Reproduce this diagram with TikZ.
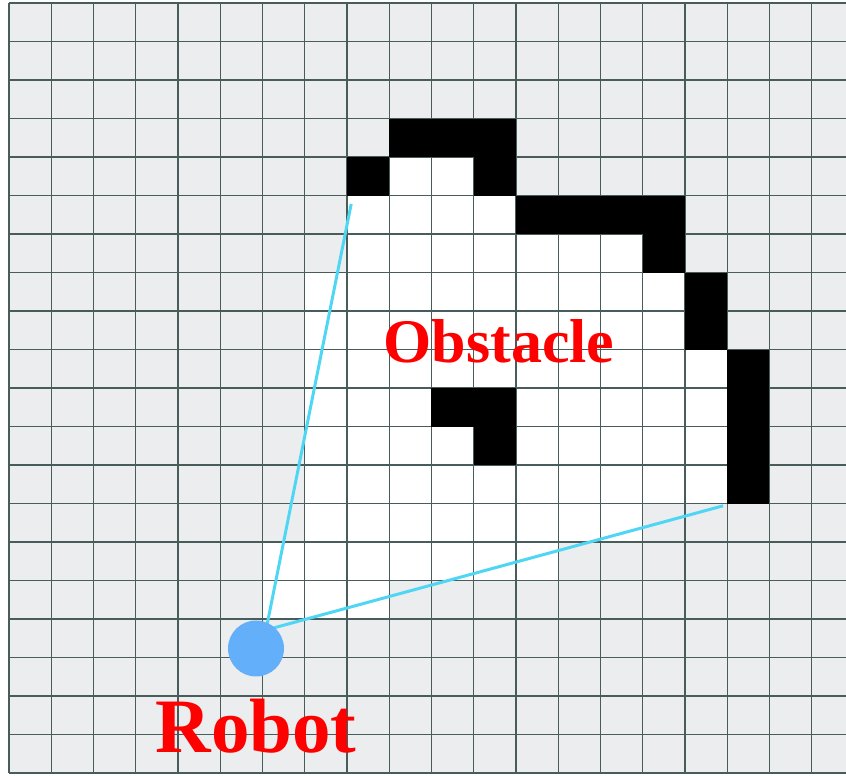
\documentclass[tikz,border=0pt]{standalone}
\usepackage{fontspec}
\setmainfont{Liberation Serif}
\usetikzlibrary{positioning}
\definecolor{cBg}{RGB}{235,237,239}
\definecolor{cGrid}{RGB}{72,92,92}
\definecolor{cRay}{RGB}{80,214,245}
\definecolor{cBot}{RGB}{100,175,250}
\definecolor{cTxt}{RGB}{255,0,0}

\begin{document}
\begin{tikzpicture}[
  x=42.25pt, y=-38.5pt,
  gridln/.style={draw=cGrid, line width=1.4pt},
  free/.style={fill=white},
  occ/.style={fill=black},
  ray/.style={draw=cRay, line width=3pt},
  bot/.style={circle, fill=cBot, minimum size=56pt, inner sep=0pt},
  lbl/.style={text=cTxt, font=\bfseries, inner sep=0pt, anchor=base}
]
\useasboundingbox (-0.213,-0.078) rectangle (19.811,20.078);
\fill[white] (-0.213,-0.078) rectangle (19.811,20.078);

% ---------------- MAP ----------------
\fill[cBg] (0,0) rectangle (19.811,20);
% cells seen by the sensor (row/first/last)
\foreach \r/\a/\b in {4/9/10,5/8/11,6/8/14,7/7/15,8/7/15,9/7/16,10/7/16,11/7/16,12/7/16,13/7/14,14/6/12,15/6/8}
  \fill[free] (\a,\r) rectangle (\b+1,\r+1);
\foreach \i in {0,...,19}
  \draw[gridln] (\i,0) -- (\i,20);
\foreach \j in {0,...,20}
  \draw[gridln] (0,\j) -- (19.811,\j);
% occupied cells (col/row)
\foreach \c/\r in {9/3,10/3,11/3,8/4,11/4,12/5,13/5,14/5,15/5,15/6,16/7,16/8,17/9,17/10,17/11,17/12,10/10,11/10,11/11}
  \fill[occ] (\c,\r) rectangle ++(1,1);

% ---------------- SENSOR ----------------
\coordinate (eye) at (6.083,16.286);
\coordinate (rayL) at (8.10,5.22);
\coordinate (rayR) at (16.90,13.06);
\draw[ray] (eye) -- (rayL);
\draw[ray] (eye) -- (rayR);
\node[bot] (robot) at (5.846,16.766) {};

% ---------------- LABELS ----------------
\node[lbl, font=\bfseries\fontsize{62}{62}\selectfont] (obstacle) at (11.6,9.325) {Obstacle};
\node[lbl, font=\bfseries\fontsize{77}{77}\selectfont] (robotlbl) at (5.846,19.48) {Robot};

\end{tikzpicture}
\end{document}
